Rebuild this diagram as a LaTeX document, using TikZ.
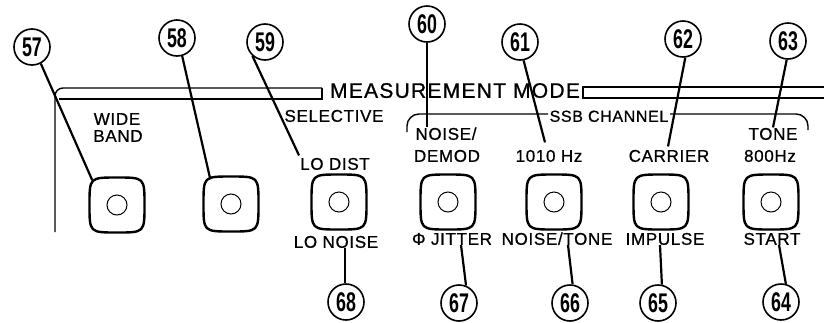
\documentclass[tikz,border=0pt]{standalone}
\usepackage{fontspec}
\usepackage{graphicx}
\setmainfont{Liberation Sans}
\newfontfamily\lblfont[LetterSpace=4,FakeBold=0.8]{Liberation Sans}
\newfontfamily\titlefont[LetterSpace=6,FakeBold=0.8]{Liberation Sans}
\newcommand{\calloutnum}[1]{\scalebox{0.66}[1]{\bfseries\fontsize{27}{27}\selectfont #1}}
\begin{document}
\begin{tikzpicture}[x=1pt,y=-1pt,
  callout/.style={circle,draw,line width=1.6pt,minimum size=36pt,inner sep=0pt},
  btn/.style={minimum size=55pt,inner sep=0pt},
  btnline/.style={line width=2.4pt},
  hole/.style={circle,draw,line width=1pt,minimum size=20pt,inner sep=0pt},
  lbl/.style={inner sep=0pt,anchor=south,text height=12.2pt,text depth=0pt,font=\lblfont\fontsize{17}{17}\selectfont},
  leader/.style={line width=2.2pt},
  frame/.style={line width=1.4pt}]
\useasboundingbox (0,0) rectangle (824,322);

% callouts
\node[callout] (c57) at (32,47) {\calloutnum{57}};
\node[callout] (c58) at (177,38) {\calloutnum{58}};
\node[callout] (c59) at (265,42) {\calloutnum{59}};
\node[callout] (c60) at (427,24) {\calloutnum{60}};
\node[callout] (c61) at (520,42) {\calloutnum{61}};
\node[callout] (c62) at (683,39) {\calloutnum{62}};
\node[callout] (c63) at (788,41) {\calloutnum{63}};
\node[callout] (c68) at (346,302) {\calloutnum{68}};
\node[callout] (c67) at (459,303) {\calloutnum{67}};
\node[callout] (c66) at (570,303) {\calloutnum{66}};
\node[callout] (c65) at (658,303) {\calloutnum{65}};
\node[callout] (c64) at (781,302) {\calloutnum{64}};

% buttons
\node[btn] (b1) at (117,205) {};
\node[btn] (b2) at (231,204) {};
\node[btn] (b3) at (339,202) {};
\node[btn] (b4) at (448,202) {};
\node[btn] (b5) at (554,202) {};
\node[btn] (b6) at (661,202) {};
\node[btn] (b7) at (771,202) {};
\foreach \i in {1,...,7} {
  \node[hole] (h\i) at (b\i) {};
  \begin{scope}[shift={(b\i)}]
    \draw[btnline] (-27.5,0) .. controls (-27.5,-27.5) .. (0,-27.5)
      .. controls (27.5,-27.5) .. (27.5,0)
      .. controls (27.5,27.5) .. (0,27.5)
      .. controls (-27.5,27.5) .. (-27.5,0) -- cycle;
  \end{scope}
}

% labels
\node[lbl] (wide) at (117,125) {WIDE};
\node[lbl] (band) at (118,142) {BAND};
\node[lbl] (selective) at (334,122) {SELECTIVE};
\node[lbl] (lodist) at (335,170) {LO DIST};
\node[lbl] (noise) at (446,140) {NOISE/};
\node[lbl] (demod) at (447,162) {DEMOD};
\node[lbl] (hz1010) at (549,162) {1010 Hz};
\node[lbl] (carrier) at (669,162) {CARRIER};
\node[lbl] (tone) at (773,140) {TONE};
\node[lbl] (hz800) at (770,162) {800Hz};
\node[lbl,font=\lblfont\fontsize{16}{16}\selectfont] (ssb) at (609,122) {SSB CHANNEL};
\node[lbl] (lonoise) at (336,248) {LO NOISE};
\node[lbl] (jitter) at (452,245) {Φ JITTER};
\node[lbl] (noisetone) at (557,245) {NOISE/TONE};
\node[lbl] (impulse) at (665,245) {IMPULSE};
\node[lbl] (start) at (772,245) {START};
\node[lbl,text height=15pt,font=\titlefont\fontsize{21}{21}\selectfont] (mm) at (455,98) {MEASUREMENT MODE};

% frames
\draw[frame,rounded corners=8pt] (55,232) -- (55,88) -- (322,88);
\draw[frame] (322,88) -- (322,99) -- (59,99);
\draw[frame] (830,87) -- (583,87) -- (583,98) -- (830,98);
\draw[frame,rounded corners=12pt] (407,132) -- (407,114) -- (548,114);
\draw[frame,rounded corners=12pt] (670,114) -- (808,114) -- (808,130);

% leaders top
\draw[leader] (c57.298) -- ([shift={(3,3)}]b1.north west);
\draw[leader] (c58.286) -- ([shift={(7,3)}]b2.north west);
\draw[leader] (c59.228) -- ([shift={(-1,-2)}]lodist.north west);
\draw[leader] (c60.south) -- (c60.south |- noise.north);
\draw[leader] (c61.281) -- ([shift={(-4,-7)}]hz1010.north);
\draw[leader] (c62.277) -- ([shift={(-1,-3)}]carrier.north);
\draw[leader] (c63.266) -- (tone.north);
% leaders bottom
\draw[leader] (c68.93) -- (c68.93 |- lonoise.south);
\draw[leader] (c67.68) -- ([xshift=9pt]jitter.south);
\draw[leader] (c66.82) -- ([xshift=11pt]noisetone.south);
\draw[leader] (c65.78) -- ([xshift=-5pt]impulse.south);
\draw[leader] (c64.75) -- ([xshift=7pt]start.south);
\end{tikzpicture}
\end{document}
